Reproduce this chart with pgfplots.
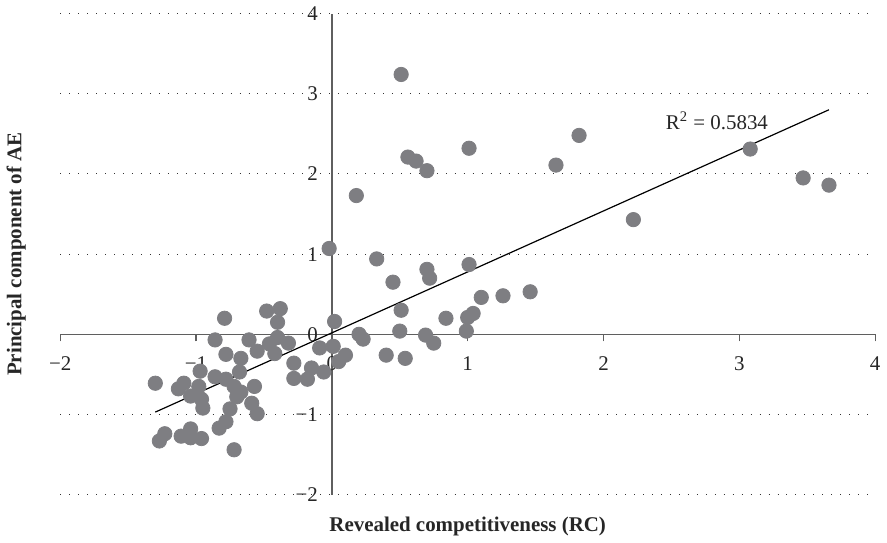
\documentclass[border=0pt]{standalone}
\usepackage{fontspec}
\setmainfont{Liberation Serif}
\usepackage{pgfplots}
\pgfplotsset{compat=1.18}
\definecolor{dotgray}{RGB}{126,126,130}
\definecolor{axgray}{RGB}{95,95,95}

\begin{document}
\begin{tikzpicture}
\begin{axis}[
  scale only axis,
  width=409pt, height=241.5pt,
  xmin=-2, xmax=4, ymin=-2, ymax=4,
  axis lines=middle,
  axis line style={-, axgray, line width=0.7pt},
  hide obscured x ticks=false,
  hide obscured y ticks=false,
  xtick={-2,-1,0,1,2,3,4},
  xticklabels={−2,−1,0,1,2,3,4},
  ytick={-2,-1,0,1,2,3,4},
  yticklabels={−2,−1,0,1,2,3,4},
  tick align=outside,
  major tick length=3.5pt,
  xtick style={axgray, line width=0.6pt},
  ytick style={draw=none},
  ymajorgrids,
  major grid style={black!80, line width=0.5pt, dash pattern=on 0.5pt off 4pt},
  tick label style={font=\fontsize{10.5}{12}\selectfont, text=black!85},
  xticklabel style={yshift=-4pt},
  xlabel={\textbf{Revealed competitiveness (RC)}},
  ylabel={\textbf{Principal component of AE}},
  label style={font=\fontsize{10.5}{12}\selectfont, text=black!85},
  xlabel style={at={(axis description cs:0.5,-0.066)}, anchor=center},
  ylabel style={at={(axis description cs:-0.054,0.5)}, anchor=center, rotate=90},
  clip=false,
]
\addplot[only marks, mark=*, mark size=3.6pt,
  mark options={fill=dotgray, draw=dotgray}] coordinates {
(0.51,3.24) (0.56,2.21) (0.62,2.16) (0.70,2.04) (1.01,2.32) (1.65,2.11)
(1.82,2.48) (0.18,1.73) (-0.02,1.07) (0.33,0.94) (2.22,1.43) (3.08,2.31)
(3.47,1.95) (3.66,1.86) (0.70,0.81) (0.72,0.70) (0.45,0.65) (1.01,0.87)
(1.10,0.46) (1.26,0.48) (1.46,0.53) (0.51,0.30) (0.84,0.20) (1.00,0.21)
(1.04,0.26) (0.02,0.16) (0.20,0.00) (0.23,-0.06) (0.50,0.04) (0.69,-0.01)
(0.75,-0.11) (0.99,0.04) (0.01,-0.15) (0.10,-0.26) (0.40,-0.26) (0.54,-0.30)
(0.05,-0.34) (-0.09,-0.17) (-0.28,-0.36) (-0.15,-0.42) (-0.06,-0.47)
(-0.28,-0.55) (-0.18,-0.56)
(-0.79,0.20) (-0.48,0.29) (-0.38,0.32) (-0.40,0.15) (-0.86,-0.07)
(-0.61,-0.07) (-0.46,-0.12) (-0.40,-0.04) (-0.32,-0.11) (-0.42,-0.24)
(-0.78,-0.25) (-0.67,-0.30) (-0.55,-0.21) (-0.97,-0.46) (-0.86,-0.53)
(-0.78,-0.56) (-0.68,-0.47) (-1.30,-0.61) (-1.09,-0.61) (-1.13,-0.68)
(-0.98,-0.65) (-1.04,-0.77) (-0.96,-0.81) (-0.95,-0.92) (-0.72,-0.65)
(-0.67,-0.72) (-0.57,-0.65) (-0.70,-0.78) (-0.59,-0.86) (-0.55,-0.99)
(-0.75,-0.93) (-0.78,-1.09) (-0.83,-1.17) (-1.23,-1.24) (-1.27,-1.33)
(-1.11,-1.27) (-1.04,-1.18) (-1.04,-1.29) (-0.96,-1.30) (-0.72,-1.44)
};
\addplot[black, line width=0.6pt] coordinates {(-1.30,-0.97) (3.66,2.80)};
\node[font=\fontsize{10.5}{12}\selectfont, text=black!85] at (axis cs:2.835,2.66)
  {R\textsuperscript{2} = 0.5834};
\end{axis}
\end{tikzpicture}
\end{document}
